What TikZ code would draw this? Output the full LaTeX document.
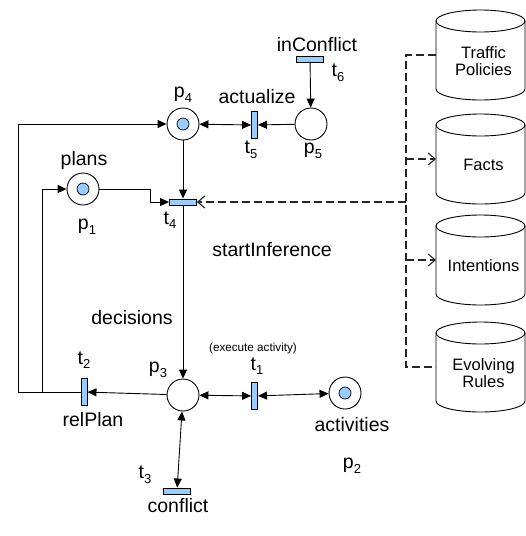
\documentclass[tikz,border=0pt]{standalone}
\usepackage{fontspec}
\setmainfont{Liberation Sans}
\usetikzlibrary{arrows.meta}
\definecolor{tblue}{RGB}{153,204,255}
\newcommand\sbs[1]{\raisebox{-4.5pt}{\fontsize{13}{13}\selectfont #1}}
\begin{document}
\begin{tikzpicture}[x=1pt,y=-1pt, font=\fontsize{19.5}{22}\selectfont,
 place/.style={circle,draw,line width=0.9pt,minimum size=32pt,inner sep=0pt},
 token/.style={circle,draw,fill=tblue,line width=0.7pt,minimum size=12pt,inner sep=0pt},
 vtr/.style={rectangle,draw,fill=tblue,line width=0.9pt,minimum width=6pt,minimum height=27pt,inner sep=0pt},
 htr/.style={rectangle,draw,fill=tblue,line width=0.9pt,minimum width=27pt,minimum height=6pt,inner sep=0pt},
 txt/.style={inner sep=0pt},
 small/.style={inner sep=0pt,font=\fontsize{11.7}{13}\selectfont},
 arc/.style={line width=0.9pt,-{Triangle[length=9pt,width=8pt]}},
 darc/.style={line width=0.9pt,{Triangle[length=9pt,width=8pt]}-{Triangle[length=9pt,width=8pt]}},
 dsh/.style={line width=1.1pt,dash pattern=on 8pt off 4pt,color=black!85},
 dsharr/.style={dsh,-{Straight Barb[length=7pt,width=12pt]}},
 db/.pic={
  \draw[line width=0.9pt] (-44.5,11) -- (-44.5,79) arc[start angle=180,end angle=0,x radius=44.5,y radius=11] -- (44.5,11);
  \draw[line width=0.9pt] (0,11) ellipse[x radius=44.5,y radius=11];
  \coordinate (-w) at (-44.5,45);
  \node[align=center,inner sep=0pt,font=\fontsize{16.5}{17.5}\selectfont] (-t) at (3,51) {\tikzpictext};
 }
]
\useasboundingbox (0,0) rectangle (526,536);

% places
\node[place] (p4) at (183,124) {};
\node[token] (p4k) at (p4) {};
\node[place] (p5) at (311,124) {};
\node[place] (p1) at (83,189) {};
\node[token] (p1k) at (p1) {};
\node[place] (p3) at (183,395) {};
\node[place] (p2) at (345,393) {};
\node[token] (p2k) at (p2) {};

% transitions
\node[vtr] (t5) at (254.5,125) {};
\node[htr] (t6) at (310,59) {};
\node[htr] (t4) at (183,202) {};
\node[vtr] (t2) at (84,392) {};
\node[vtr] (t1) at (254.5,396) {};
\node[htr] (t3) at (177,491) {};

% labels
\node[txt] (lp4) at (183,95) {p\sbs{4}};
\node[txt] (lp5) at (313,151) {p\sbs{5}};
\node[txt] (lact) at (257,97) {actualize};
\node[txt] (lt5) at (251,150) {t\sbs{5}};
\node[txt] (linc) at (317,45) {inConflict};
\node[txt] (lt6) at (338,73) {t\sbs{6}};
\node[txt] (lplans) at (84,160) {plans};
\node[txt] (lp1) at (87,227) {p\sbs{1}};
\node[txt] (lt4) at (170,220) {t\sbs{4}};
\node[txt] (lsi) at (272,250) {startInference};
\node[txt] (ldec) at (132,318) {decisions};
\node[txt] (lp3) at (158,370) {p\sbs{3}};
\node[txt] (lt2) at (84,360) {t\sbs{2}};
\node[txt] (lrel) at (93,420) {relPlan};
\node[txt] (lt1) at (257,366) {t\sbs{1}};
\node[small] (lexe) at (253,348) {(execute activity)};
\node[txt] (lact2) at (352,425) {activities};
\node[txt] (lp2) at (352,466) {p\sbs{2}};
\node[txt] (lt3) at (145,475) {t\sbs{3}};
\node[txt] (lconf) at (178,506) {conflict};

% databases
\pic[pic text={Traffic\\Policies}] (tp) at (480.5,10) {db};
\pic[pic text={Facts}] (fa) at (480.5,114) {db};
\pic[pic text={Intentions}] (in) at (480.5,215) {db};
\pic[pic text={Evolving\\Rules}] (er) at (480.5,322) {db};

% arcs
\draw[arc] (t6) -- (p5);
\draw[arc] (p5) -- (t5);
\draw[darc] (p4) -- (t5);
\draw[arc] (p4) -- (t4);
\draw[arc] (p1.east) -- ++(51,0) |- (t4.west);
\draw[arc] (t4) -- (p3);
\draw[arc] (p3) -- (t2);
\draw[darc] (p3) -- (t1);
\draw[darc] (t1) -- (p2);
\draw[darc] (p3) -- (t3);
\coordinate (lo) at (18,392);
\coordinate (li) at (42,392);
\draw[arc] (t2.west) -- (lo) |- (p4.west);
\draw[arc] (li) |- (p1.west);

% dashed links
\coordinate (dtop) at (406,55);
\coordinate (dbot) at (406,367);
\draw[dsh] (tp-w) -- (dtop) -- (dbot) -- (er-w);
\draw[dsharr] (dtop |- t4.east) -- (t4.east);
\draw[dsharr] (dtop |- fa-w) -- (fa-w);
\draw[dsharr] (dtop |- in-w) -- (in-w);
\end{tikzpicture}
\end{document}
